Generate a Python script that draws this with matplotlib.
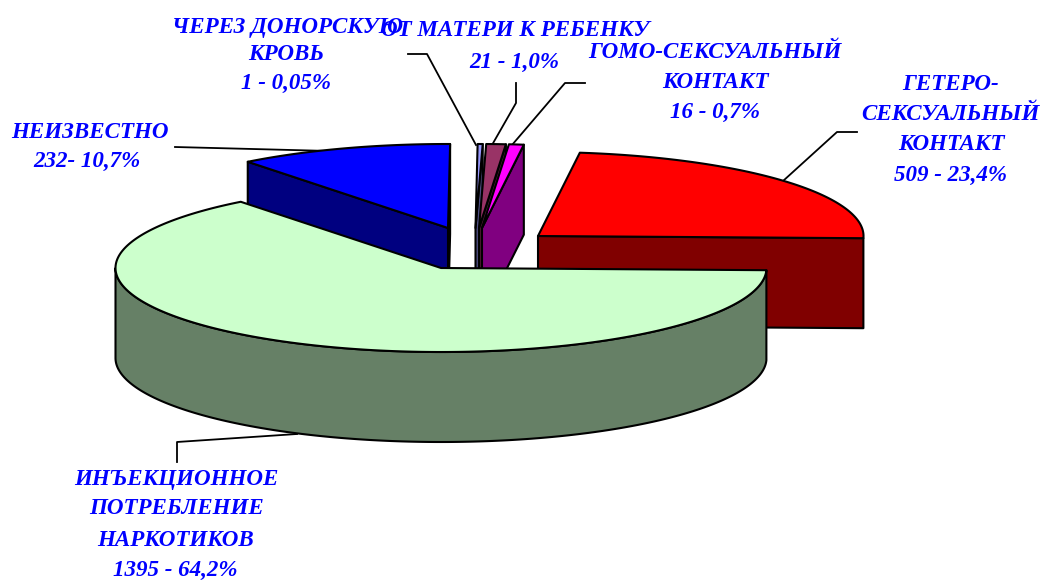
import numpy as np
import matplotlib
matplotlib.use("Agg")
import matplotlib.pyplot as plt
from matplotlib.patches import Polygon

# counter clockwise from the right hand side of the pie
groups = ["hetero", "homo", "mother", "donor", "unknown", "drugs"]
counts = [509, 16, 21, 1, 232, 1395]

top_colors = ["#ff0000", "#ff00ff", "#993366", "#9999ff", "#0000ff", "#ccffcc"]
side_colors = ["#800000", "#800080", "#4d1a33", "#4d4d80", "#000080", "#668066"]

# where each slice's tip ended up after exploding, in pixels
tip_x = [538, 482, 479, 475.5, 448, 441]
tip_y = [236, 228, 228, 228, 228, 268]

# painter's order, back to front
draw_order = [4, 3, 2, 1, 0, 5]

RX, RY, DEPTH = 325.5, 84, 90
START_ANGLE = -1.5
MIN_SWEEP = 0.9  # the one person slice would vanish otherwise

label_lines = [
    ("ЧЕРЕЗ ДОНОРСКУЮ", 287, 27), ("КРОВЬ", 286, 54), ("1 - 0,05%", 286, 83),
    ("ОТ МАТЕРИ К РЕБЕНКУ", 515, 31), ("21 - 1,0%", 514, 62),
    ("ГОМО-СЕКСУАЛЬНЫЙ", 715, 52), ("КОНТАКТ", 715, 83), ("16 - 0,7%", 715, 112),
    ("ГЕТЕРО-", 951, 85), ("СЕКСУАЛЬНЫЙ", 950, 115), ("КОНТАКТ", 951, 145), ("509 - 23,4%", 950, 175),
    ("НЕИЗВЕСТНО", 90, 132), ("232- 10,7%", 87, 161),
    ("ИНЪЕКЦИОННОЕ", 176, 479), ("ПОТРЕБЛЕНИЕ", 177, 509), ("НАРКОТИКОВ", 176, 541), ("1395 - 64,2%", 175, 570),
]

leaders = [
    ([408, 427, 476], [54, 54, 145]),
    ([516, 516, 492], [83, 103, 145]),
    ([585, 565, 512], [83, 83, 145]),
    ([175, 330], [147, 151]),
    ([857, 837, 783], [132, 132, 181]),
    ([177, 177, 297], [462, 442, 434]),
]


def rim(x0, y0, a0, a1):
    angles = np.radians(np.linspace(a0, a1, max(int(abs(a1 - a0) * 2), 2)))
    return x0 + RX * np.cos(angles), y0 - RY * np.sin(angles)


def draw_slice(ax, i, a0, a1, z):
    x0, y0 = tip_x[i], tip_y[i]
    edge = dict(edgecolor="black", linewidth=1.5, joinstyle="round", zorder=z)

    # cut faces, only the one turned towards the viewer
    visible = []
    if np.cos(np.radians(a0)) > 0:
        visible.append(a0)
    if np.cos(np.radians(a1)) < 0:
        visible.append(a1)
    for a in visible:
        ex, ey = x0 + RX * np.cos(np.radians(a)), y0 - RY * np.sin(np.radians(a))
        ax.add_patch(Polygon([(x0, y0), (ex, ey), (ex, ey + DEPTH), (x0, y0 + DEPTH)],
                             facecolor=side_colors[i], **edge))

    # outer wall, only the part facing the viewer
    lo, hi = max(a0, 180), min(a1, 360)
    if hi > lo:
        wx, wy = rim(x0, y0, lo, hi)
        pts = np.r_[np.c_[wx, wy], np.c_[wx[::-1], wy[::-1] + DEPTH]]
        ax.add_patch(Polygon(pts, facecolor=side_colors[i], **edge))

    # top
    tx, ty = rim(x0, y0, a0, a1)
    pts = np.r_[[(x0, y0)], np.c_[tx, ty]]
    ax.add_patch(Polygon(pts, facecolor=top_colors[i], **edge))


fig = plt.figure(figsize=(10.43, 5.8), dpi=100)
ax = fig.add_axes([0, 0, 1, 1])
ax.set_xlim(0, 1043)
ax.set_ylim(580, 0)
ax.axis("off")

sweeps = np.maximum(np.array(counts) / sum(counts) * 360, MIN_SWEEP)
sweeps = sweeps * 360 / sweeps.sum()
edges = START_ANGLE + np.r_[0, np.cumsum(sweeps)]

for z, i in enumerate(draw_order):
    draw_slice(ax, i, edges[i], edges[i + 1], z + 2)

for xs, ys in leaders:
    ax.plot(xs, ys, color="black", linewidth=1.3, zorder=1.5)

for line, x, y in label_lines:
    ax.text(x, y, line, ha="center", va="center", color="#0000ff", fontsize=16.6,
            family="Liberation Serif", style="italic", weight="bold", zorder=20)

fig.savefig("out.png", dpi=100)
